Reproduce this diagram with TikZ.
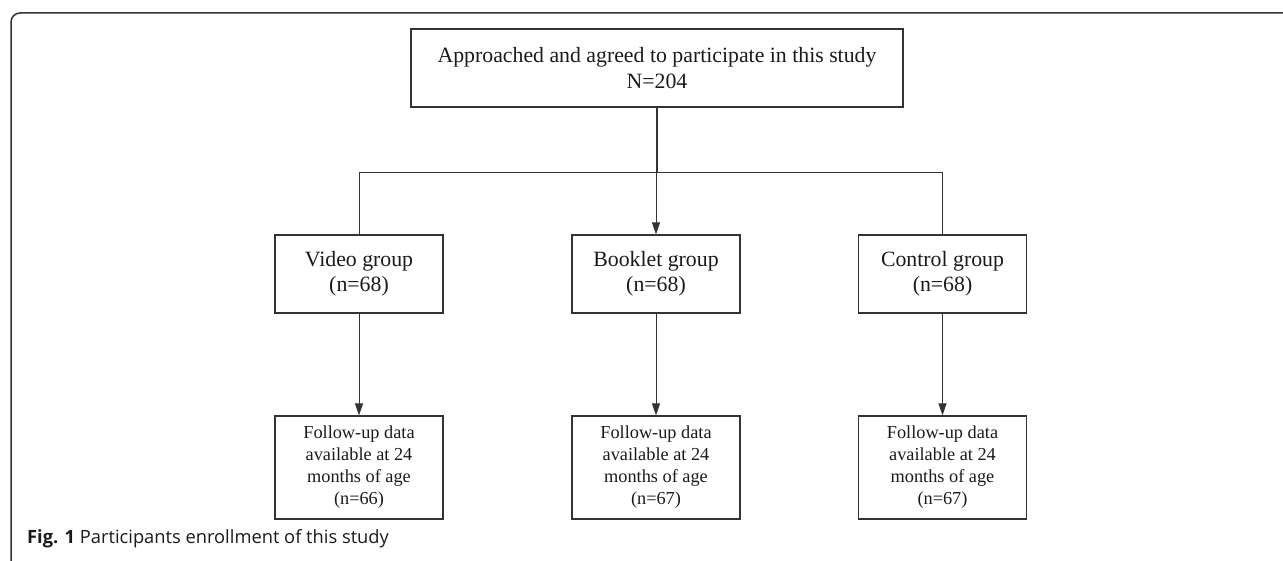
\documentclass[tikz,border=0pt]{standalone}
\usepackage{fontspec}
\setmainfont{Liberation Serif}
\newfontfamily\capfont{Open Sans}
\usetikzlibrary{arrows.meta}
\definecolor{ln}{HTML}{333333}
\definecolor{tx}{HTML}{1a1a1a}
\tikzset{
  box/.style={draw=ln, line width=1.2pt, text=tx, align=center, inner sep=0pt, minimum width=168pt},
  topbox/.style={box, minimum width=492pt, minimum height=78pt, font=\fontsize{21.8}{26.5}\selectfont},
  grpbox/.style={box, minimum height=78pt, font=\fontsize{21.8}{25}\selectfont},
  fupbox/.style={box, minimum height=103pt, font=\fontsize{18.3}{22}\selectfont},
  conn/.style={draw=ln, line width=1pt},
  arr/.style={conn, -{Triangle[length=12pt,width=8pt]}},
}
\begin{document}
\begin{tikzpicture}[x=1pt,y=-1pt]
\useasboundingbox (0,0) rectangle (1283,561);
\draw[ln, line width=1.5pt, rounded corners=9pt] (1283,13) -- (11,13) -- (11,561);
\node[topbox] (top) at (657,68) {Approached and agreed to participate in this study\\N=204};
\node[grpbox] (video) at (359,274) {Video group\\(n=68)};
\node[grpbox] (book) at (656,274) {Booklet group\\(n=68)};
\node[grpbox] (ctrl) at (942.5,274) {Control group\\(n=68)};
\node[fupbox] (fv) at (359,467.5) {Follow-up data\\available at 24\\months of age\\(n=66)};
\node[fupbox] (fb) at (656,467.5) {Follow-up data\\available at 24\\months of age\\(n=67)};
\node[fupbox] (fc) at (942.5,467.5) {Follow-up data\\available at 24\\months of age\\(n=67)};
\coordinate (split) at (657,173);
\draw[conn, line width=2pt] (top.south) -- (split);
\draw[conn] (video.north |- split) -- (ctrl.north |- split);
\draw[conn] (video.north |- split) -- (video.north);
\draw[conn] (ctrl.north |- split) -- (ctrl.north);
\draw[arr] (book.north |- split) -- (book.north);
\draw[arr] (video.south) -- (fv.north);
\draw[arr] (book.south) -- (fb.north);
\draw[arr] (ctrl.south) -- (fc.north);
\node[anchor=base west, inner sep=0pt, text=tx, font=\capfont\fontsize{18.3}{22}\selectfont] (cap) at (27,543) {\textbf{Fig. 1} Participants enrollment of this study};
\end{tikzpicture}
\end{document}
